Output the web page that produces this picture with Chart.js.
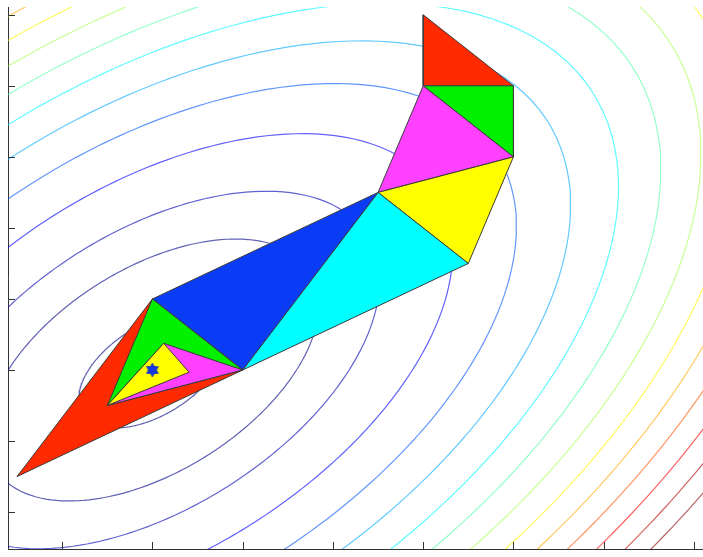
<!DOCTYPE html>
<html>
<head>
<meta charset="utf-8">
<title>Nelder-Mead simplex</title>
<script src="https://cdn.jsdelivr.net/npm/chart.js@4.4.0/dist/chart.umd.min.js"></script>
<style>
  html, body { margin: 0; padding: 0; background: #fff; overflow: hidden; }
  #wrap { width: 703px; height: 557px; }
</style>
</head>
<body>
<div id="wrap"><canvas id="simplex"></canvas></div>
<script>
// objective around its minimum: q = a*dx^2 + b*dx*dy + c*dy^2
var minimum = [1, 2];
var quadCoef = [1, -1, 1];

// contour levels (q above the minimum) and their jet colours
var contourLevels = [0.5, 2.55, 4.75, 8.3, 12.2, 16.1, 20.0, 23.8, 27.7, 31.5, 35.3, 39.1, 43.0, 47.0, 50.8];
var contourColors = ['rgb(0,0,128)', 'rgb(0,0,135)', 'rgb(0,0,180)', 'rgb(0,0,255)', 'rgb(0,85,255)',
                     'rgb(0,170,255)', 'rgb(0,250,255)', 'rgb(85,255,170)', 'rgb(170,255,85)', 'rgb(255,245,0)',
                     'rgb(255,170,0)', 'rgb(255,85,0)', 'rgb(250,0,0)', 'rgb(185,0,0)', 'rgb(135,0,0)'];
var contourAlpha = 0.62;

// vertices visited by the search
var vertX = [4, 4, 5, 5, 3.5, 4.5, 2, 1, -0.5, 0.5, 1.125, 1.40625];
var vertY = [7, 6, 6, 5, 4.5, 3.5, 2, 3, 0.5, 1.5, 2.375, 1.96875];

// each simplex = three vertex indices, in iteration order
var simplexes = [[0, 1, 2], [1, 2, 3], [1, 3, 4], [4, 3, 5], [4, 5, 6],
                 [4, 6, 7], [8, 7, 6], [7, 9, 6], [9, 6, 10], [10, 9, 11]];
var simplexColors = ['#ff2a00', '#00f000', '#ff40ff', '#ffff00', '#00ffff', '#0a3cf5'];

var xTicks = [0, 1, 2, 3, 4, 5, 6, 7];
var yTicks = [0, 1, 2, 3, 4, 5, 6, 7];

function quad(dx, dy) {
  return quadCoef[0] * dx * dx + quadCoef[1] * dx * dy + quadCoef[2] * dy * dy;
}

// points of one level curve, walked round by angle
function contourPoints(level) {
  var pts = [];
  var n = 240;
  for (var i = 0; i <= n; i++) {
    var t = 2 * Math.PI * i / n;
    var ux = Math.cos(t), uy = Math.sin(t);
    var r = Math.sqrt(level / quad(ux, uy));
    pts.push({ x: minimum[0] + r * ux, y: minimum[1] + r * uy });
  }
  return pts;
}

function fade(rgb, a) {
  return rgb.replace('rgb(', 'rgba(').replace(')', ',' + a + ')');
}

// six-pointed star marker
function hexagram(r, color) {
  var c = document.createElement('canvas');
  c.width = c.height = 2 * r + 2;
  var g = c.getContext('2d');
  g.translate(r + 1, r + 1);
  g.fillStyle = color;
  g.strokeStyle = '#1a2cb0';
  g.lineWidth = 0.6;
  for (var k = 0; k < 2; k++) {
    g.beginPath();
    for (var i = 0; i < 3; i++) {
      var a = -Math.PI / 2 + k * Math.PI + i * 2 * Math.PI / 3;
      var px = r * Math.cos(a), py = r * Math.sin(a);
      if (i === 0) g.moveTo(px, py); else g.lineTo(px, py);
    }
    g.closePath();
    g.fill();
    g.stroke();
  }
  return c;
}

var datasets = [];

datasets.push({
  type: 'line',
  data: [{ x: minimum[0], y: minimum[1] }],
  showLine: false,
  pointStyle: hexagram(7, '#1238e8'),
  pointRadius: 7,
  pointHoverRadius: 7,
  order: 0
});

simplexes.forEach(function (s, k) {
  var pts = s.concat([s[0]]).map(function (i) { return { x: vertX[i], y: vertY[i] }; });
  datasets.push({
    type: 'line',
    data: pts,
    fill: 'shape',
    backgroundColor: simplexColors[k % simplexColors.length],
    borderColor: '#3a3a3a',
    borderWidth: 1,
    borderJoinStyle: 'miter',
    pointRadius: 0,
    tension: 0,
    order: 50 - k
  });
});

contourLevels.forEach(function (lv, k) {
  datasets.push({
    type: 'line',
    data: contourPoints(lv),
    borderColor: fade(contourColors[k], contourAlpha),
    borderWidth: 1.2,
    pointRadius: 0,
    tension: 0,
    fill: false,
    order: 100
  });
});

// short tick marks pointing into the plot
var innerTicks = {
  id: 'innerTicks',
  afterDraw: function (chart) {
    var ctx = chart.ctx, area = chart.chartArea;
    var xs = chart.scales.x, ys = chart.scales.y;
    ctx.save();
    ctx.strokeStyle = '#333';
    ctx.lineWidth = 1;
    ctx.beginPath();
    xTicks.forEach(function (v) {
      var px = Math.round(xs.getPixelForValue(v)) + 0.5;
      ctx.moveTo(px, area.bottom);
      ctx.lineTo(px, area.bottom - 7);
    });
    yTicks.forEach(function (v) {
      var py = Math.round(ys.getPixelForValue(v)) + 0.5;
      ctx.moveTo(area.left, py);
      ctx.lineTo(area.left + 7, py);
    });
    ctx.stroke();
    ctx.restore();
  }
};

var axisStyle = {
  type: 'linear',
  ticks: { display: false },
  grid: { display: true, drawOnChartArea: false, drawTicks: false },
  border: { display: true, color: '#333', width: 1 }
};

new Chart(document.getElementById('simplex').getContext('2d'), {
  type: 'scatter',
  data: { datasets: datasets },
  options: {
    responsive: true,
    maintainAspectRatio: false,
    animation: false,
    layout: { autoPadding: false, padding: { left: 8, top: 7, right: 0, bottom: 8 } },
    plugins: { legend: { display: false }, tooltip: { enabled: false } },
    scales: {
      x: Object.assign({}, axisStyle, { min: -0.6, max: 7.1 }),
      y: Object.assign({}, axisStyle, { min: -0.52, max: 7.11 })
    }
  },
  plugins: [innerTicks]
});
</script>
</body>
</html>
